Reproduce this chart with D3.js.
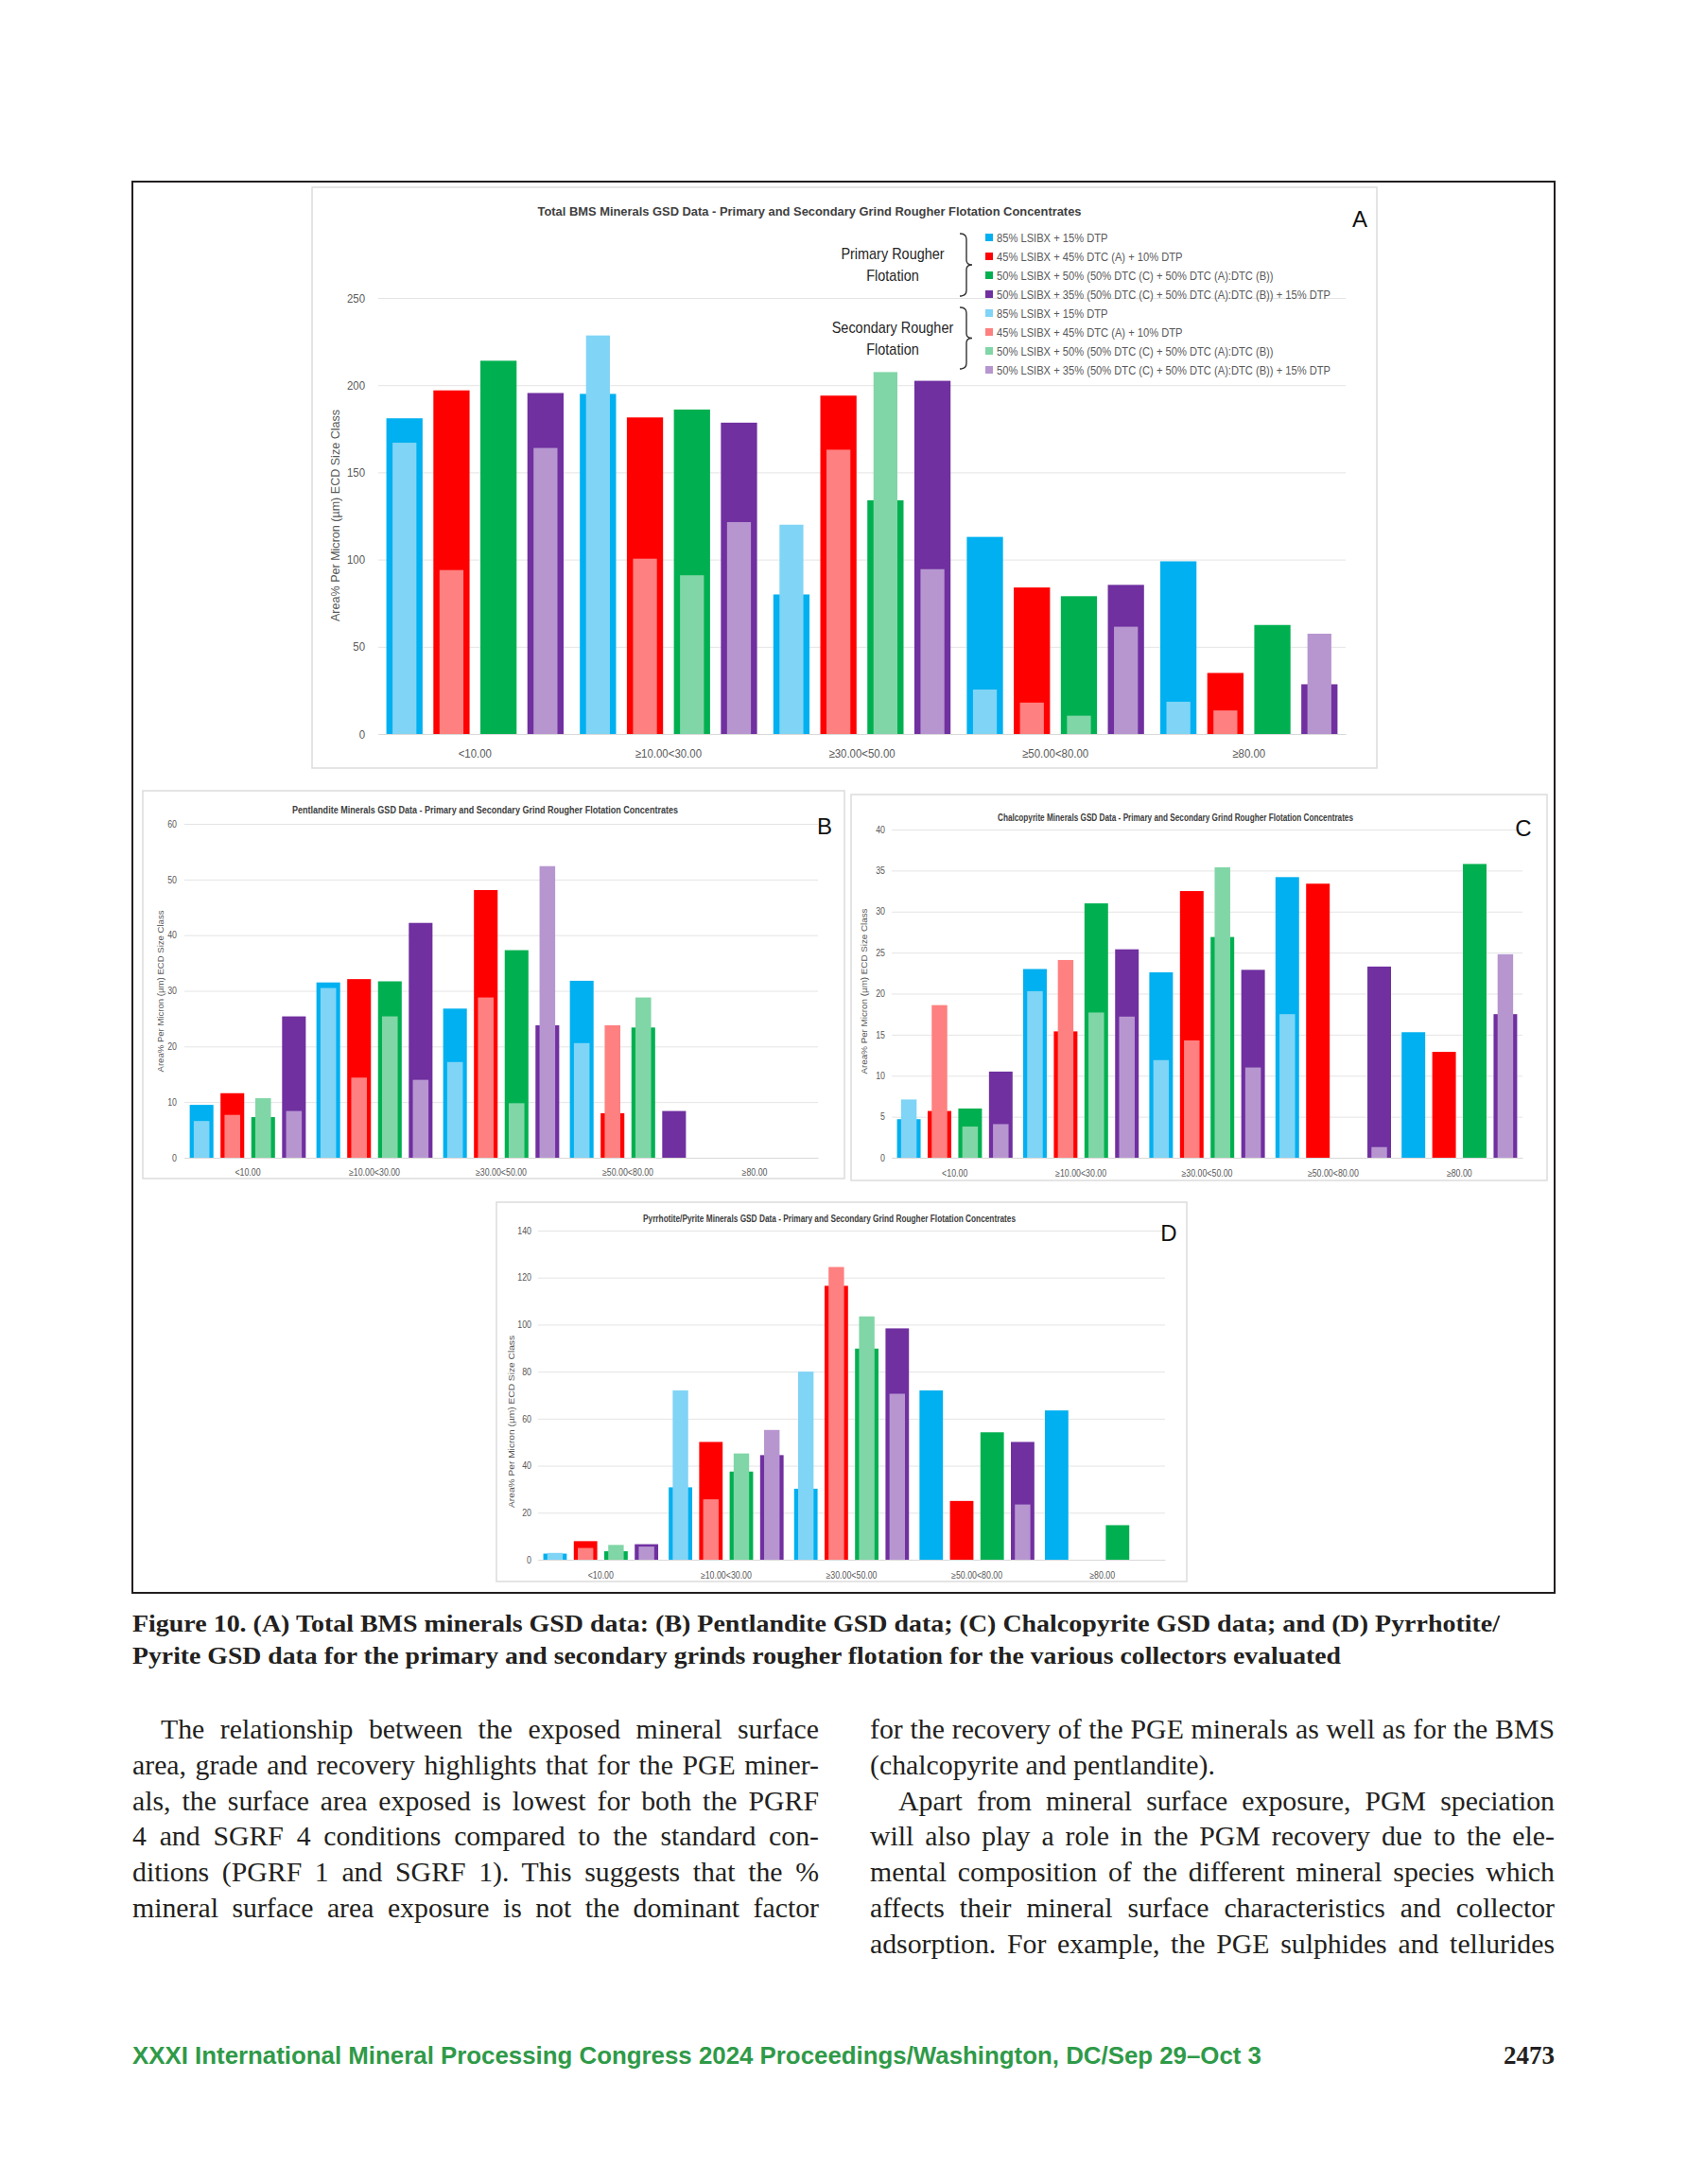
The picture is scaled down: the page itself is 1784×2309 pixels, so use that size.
<!DOCTYPE html>
<html>
<head>
<meta charset="utf-8">
<script src="https://cdn.jsdelivr.net/npm/d3@7"></script>
<style>
body { margin: 0; background: #fff; }
svg text { font-family: "Liberation Sans Narrow", "Liberation Sans", Arial, sans-serif; }
svg text.serif { font-family: "Liberation Serif", "DejaVu Serif", serif; }
svg text.plain { font-family: "Liberation Sans", Arial, sans-serif; }
</style>
</head>
<body>
<svg id="page" width="1784" height="2309"></svg>
<script>
// categories and series shared by the four charts
var categories = ["<10.00", "\u226510.00<30.00", "\u226530.00<50.00", "\u226550.00<80.00", "\u226580.00"];
var seriesNames = [
  "85% LSIBX + 15% DTP",
  "45% LSIBX + 45% DTC (A) + 10% DTP",
  "50% LSIBX + 50% (50% DTC (C) + 50% DTC (A):DTC (B))",
  "50% LSIBX + 35% (50% DTC (C) + 50% DTC (A):DTC (B)) + 15% DTP"
];
var primaryColors = ["#00b0f0", "#ff0000", "#00b050", "#7030a0"];
var secondaryColors = ["#80d4f6", "#ff8080", "#80d6a6", "#b796d0"];
var yTitle = "Area% Per Micron (\u00b5m) ECD Size Class";

// (A) total BMS, rows = series, columns = categories
var bmsPrimary = [
  [181, 195, 80, 113, 99],
  [197, 181.5, 194, 84, 35],
  [214, 186, 134, 79, 62.5],
  [195.5, 178.5, 202.5, 85.5, 28.5]
];
var bmsSecondary = [
  [167, 228.5, 120, 25.5, 18.5],
  [94, 100.5, 163, 18, 13.5],
  [0, 91, 207.5, 10.5, 0],
  [164, 121.5, 94.5, 61.5, 57.5]
];
var bmsTicks = [0, 50, 100, 150, 200, 250];

// (B) pentlandite
var pentPrimary = [
  [9.5, 31.5, 26.8, 31.8, 0],
  [11.6, 32.1, 48.1, 8, 0],
  [7.3, 31.7, 37.3, 23.4, 0],
  [25.4, 42.2, 23.8, 8.4, 0]
];
var pentSecondary = [
  [6.6, 30.5, 17.2, 20.6, 0],
  [7.7, 14.4, 28.8, 23.8, 0],
  [10.7, 25.4, 9.8, 28.8, 0],
  [8.4, 14, 52.4, 0, 0]
];
var pentTicks = [0, 10, 20, 30, 40, 50, 60];

// (C) chalcopyrite
var chalcPrimary = [
  [4.7, 23, 22.6, 34.2, 15.3],
  [5.7, 15.4, 32.5, 33.4, 12.9],
  [6, 31, 26.9, 0, 35.8],
  [10.5, 25.4, 22.9, 23.3, 17.5]
];
var chalcSecondary = [
  [7.1, 20.3, 11.9, 17.5, 0],
  [18.6, 24.1, 14.3, 0, 0],
  [3.8, 17.7, 35.4, 0, 0],
  [4.1, 17.2, 11, 1.3, 24.8]
];
var chalcTicks = [0, 5, 10, 15, 20, 25, 30, 35, 40];

// (D) pyrrhotite / pyrite
var pyrrPrimary = [
  [2.6, 30.8, 30.2, 72, 63.5],
  [7.9, 50.1, 116.5, 25, 0],
  [3.6, 37.5, 89.8, 54.2, 14.7],
  [6.6, 44.5, 98.4, 50.1, 0]
];
var pyrrSecondary = [
  [2.9, 72, 80, 0, 0],
  [5, 25.7, 124.5, 0, 0],
  [6.3, 45.2, 103.5, 0, 0],
  [5.6, 55.2, 70.6, 23.5, 0]
];
var pyrrTicks = [0, 20, 40, 60, 80, 100, 120, 140];

var captionLines = [
  "Figure 10. (A) Total BMS minerals GSD data: (B) Pentlandite GSD data; (C) Chalcopyrite GSD data; and (D) Pyrrhotite/",
  "Pyrite GSD data for the primary and secondary grinds rougher flotation for the various collectors evaluated"
];
var leftColumn = [
  "The relationship between the exposed mineral surface",
  "area, grade and recovery highlights that for the PGE miner-",
  "als, the surface area exposed is lowest for both the PGRF",
  "4 and SGRF 4 conditions compared to the standard con-",
  "ditions (PGRF 1 and SGRF 1). This suggests that the %",
  "mineral surface area exposure is not the dominant factor"
];
var rightColumn = [
  "for the recovery of the PGE minerals as well as for the BMS",
  "(chalcopyrite and pentlandite).",
  "Apart from mineral surface exposure, PGM speciation",
  "will also play a role in the PGM recovery due to the ele-",
  "mental composition of the different mineral species which",
  "affects their mineral surface characteristics and collector",
  "adsorption. For example, the PGE sulphides and tellurides"
];
var footerText = "XXXI International Mineral Processing Congress 2024 Proceedings/Washington, DC/Sep 29\u2013Oct 3";
var pageNumber = "2473";

var svg = d3.select("#page");

// squeeze text horizontally (the original charts use a condensed face)
function condense(sel, f) {
  sel.each(function() {
    var n = this.getComputedTextLength();
    d3.select(this).attr("textLength", n * f).attr("lengthAdjust", "spacingAndGlyphs");
  });
}

// figure frame
svg.append("rect")
  .attr("x", 140).attr("y", 192).attr("width", 1504).attr("height", 1492)
  .attr("fill", "#fff").attr("stroke", "#231f20").attr("stroke-width", 2);

function drawChart(cfg) {
  var g = svg.append("g");

  g.append("rect")
    .attr("x", cfg.panel[0]).attr("y", cfg.panel[1])
    .attr("width", cfg.panel[2]).attr("height", cfg.panel[3])
    .attr("fill", "#fff").attr("stroke", "#dcdcdc").attr("stroke-width", 1.5);

  var x0 = d3.scaleBand().domain(categories)
    .range([cfg.left, cfg.right]).paddingInner(0.084).paddingOuter(0.042);
  var x1 = d3.scaleBand().domain(d3.range(seriesNames.length))
    .range([0, x0.bandwidth()]).paddingInner(0.23);
  var y = d3.scaleLinear().domain([0, cfg.max]).range([cfg.zero, cfg.top]);

  // gridlines + y labels
  var ya = g.append("g")
    .attr("transform", "translate(" + cfg.left + ",0)")
    .call(d3.axisLeft(y).tickValues(cfg.ticks)
      .tickSize(-(cfg.right - cfg.left)).tickPadding(cfg.tickPad));
  ya.select(".domain").remove();
  ya.selectAll(".tick line").attr("stroke", "#e4e4e4");
  ya.selectAll(".tick text").attr("fill", "#595959").style("font-size", cfg.tickFont + "px");
  condense(ya.selectAll(".tick text"), 0.88);

  // x axis
  var xa = g.append("g")
    .attr("transform", "translate(0," + cfg.zero + ")")
    .call(d3.axisBottom(x0).tickSize(0).tickSizeOuter(0).tickPadding(cfg.catPad));
  xa.select(".domain").attr("stroke", "#d9d9d9");
  xa.selectAll(".tick text").attr("fill", "#595959").style("font-size", cfg.tickFont + "px");
  condense(xa.selectAll(".tick text"), 0.88);

  // primary bars then secondary bars on top
  function flatten(rows) {
    var out = [];
    rows.forEach(function(row, s) {
      row.forEach(function(v, c) { if (v > 0) out.push({s: s, c: categories[c], v: v}); });
    });
    return out;
  }
  var bw = x1.bandwidth(), sw = bw * 0.66;

  g.append("g").selectAll("rect")
    .data(flatten(cfg.primary))
    .enter().append("rect")
      .attr("x", function(d) { return x0(d.c) + x1(d.s); })
      .attr("y", function(d) { return y(d.v); })
      .attr("width", bw)
      .attr("height", function(d) { return cfg.zero - y(d.v); })
      .attr("fill", function(d) { return primaryColors[d.s]; });

  g.append("g").selectAll("rect")
    .data(flatten(cfg.secondary))
    .enter().append("rect")
      .attr("x", function(d) { return x0(d.c) + x1(d.s) + (bw - sw) / 2; })
      .attr("y", function(d) { return y(d.v); })
      .attr("width", sw)
      .attr("height", function(d) { return cfg.zero - y(d.v); })
      .attr("fill", function(d) { return secondaryColors[d.s]; });

  // title
  g.append("text")
    .attr("x", cfg.titlePos[0]).attr("y", cfg.titlePos[1])
    .attr("text-anchor", "middle")
    .attr("textLength", cfg.titleLen).attr("lengthAdjust", "spacingAndGlyphs")
    .style("font-size", cfg.titleFont + "px").style("font-weight", "bold")
    .attr("fill", "#404040")
    .text(cfg.title);

  // panel letter
  g.append("text").attr("class", "plain")
    .attr("x", cfg.letterPos[0]).attr("y", cfg.letterPos[1])
    .attr("text-anchor", "middle")
    .style("font-size", "24px").attr("fill", "#111")
    .text(cfg.letter);

  // y axis title
  g.append("text").attr("class", "plain")
    .attr("transform", "translate(" + cfg.yTitlePos[0] + "," + cfg.yTitlePos[1] + ") rotate(-90)")
    .attr("text-anchor", "middle")
    .attr("textLength", cfg.yTitleLen).attr("lengthAdjust", "spacingAndGlyphs")
    .style("font-size", cfg.yTitleFont + "px").attr("fill", "#595959")
    .text(yTitle);
}

drawChart({
  panel: [330, 198, 1126, 614], left: 400, right: 1423, zero: 776, top: 315,
  max: 250, ticks: bmsTicks, tickPad: 14, catPad: 16, tickFont: 13,
  primary: bmsPrimary, secondary: bmsSecondary,
  title: "Total BMS Minerals GSD Data - Primary and Secondary Grind Rougher Flotation Concentrates",
  titlePos: [856, 228], titleLen: 575, titleFont: 13.5,
  letter: "A", letterPos: [1438, 240],
  yTitlePos: [359, 545], yTitleLen: 224, yTitleFont: 12
});

drawChart({
  panel: [151, 836, 742, 410], left: 195, right: 865, zero: 1224, top: 871,
  max: 60, ticks: pentTicks, tickPad: 8, catPad: 12, tickFont: 10,
  primary: pentPrimary, secondary: pentSecondary,
  title: "Pentlandite Minerals GSD Data - Primary and Secondary Grind Rougher Flotation Concentrates",
  titlePos: [513, 860], titleLen: 408, titleFont: 10.5,
  letter: "B", letterPos: [872, 882],
  yTitlePos: [173, 1048], yTitleLen: 171, yTitleFont: 9.5
});

drawChart({
  panel: [900, 840, 736, 408], left: 943, right: 1610, zero: 1224, top: 877,
  max: 40, ticks: chalcTicks, tickPad: 7, catPad: 12.5, tickFont: 10,
  primary: chalcPrimary, secondary: chalcSecondary,
  title: "Chalcopyrite Minerals GSD Data - Primary and Secondary Grind Rougher Flotation Concentrates",
  titlePos: [1243, 868], titleLen: 376, titleFont: 10.5,
  letter: "C", letterPos: [1611, 884],
  yTitlePos: [917, 1048], yTitleLen: 175, yTitleFont: 9.5
});

drawChart({
  panel: [525, 1271, 730, 401], left: 569, right: 1232, zero: 1649, top: 1301,
  max: 140, ticks: pyrrTicks, tickPad: 7, catPad: 12.5, tickFont: 10,
  primary: pyrrPrimary, secondary: pyrrSecondary,
  title: "Pyrrhotite/Pyrite Minerals GSD Data - Primary and Secondary Grind Rougher Flotation Concentrates",
  titlePos: [877, 1292], titleLen: 394, titleFont: 10.5,
  letter: "D", letterPos: [1236, 1312],
  yTitlePos: [544, 1503], yTitleLen: 182, yTitleFont: 9.5
});

// legend of chart A: primary group then secondary group
var legendRows = seriesNames.map(function(n, i) { return {name: n, color: primaryColors[i]}; })
  .concat(seriesNames.map(function(n, i) { return {name: n, color: secondaryColors[i]}; }));
var ly = d3.scaleLinear().domain([0, 7]).range([251, 391]);
var legend = svg.append("g");
legend.selectAll("rect").data(legendRows).enter().append("rect")
  .attr("x", 1042).attr("y", function(d, i) { return ly(i) - 4; })
  .attr("width", 8).attr("height", 8)
  .attr("fill", function(d) { return d.color; });
var legendText = legend.selectAll("text").data(legendRows).enter().append("text")
  .attr("x", 1054).attr("y", function(d, i) { return ly(i) + 4.5; })
  .style("font-size", "13px").attr("fill", "#595959")
  .text(function(d) { return d.name; });
// longest entry is about 353px wide in the original
var longest = d3.max(legendText.nodes(), function(n) { return n.getComputedTextLength(); });
condense(legendText, 353 / longest);

function brace(top, bottom, bx) {
  var mid = (top + bottom) / 2;
  return "M" + (bx - 7) + "," + top + " Q" + bx + "," + top + " " + bx + "," + (top + 6) +
    " L" + bx + "," + (mid - 5) + " Q" + bx + "," + mid + " " + (bx + 6) + "," + mid +
    " Q" + bx + "," + mid + " " + bx + "," + (mid + 5) +
    " L" + bx + "," + (bottom - 6) + " Q" + bx + "," + bottom + " " + (bx - 7) + "," + bottom;
}
[[247, 313, "Primary Rougher"], [325, 390, "Secondary Rougher"]].forEach(function(b) {
  legend.append("path").attr("d", brace(b[0], b[1], 1022))
    .attr("fill", "none").attr("stroke", "#333").attr("stroke-width", 1.4);
  var mid = (b[0] + b[1]) / 2;
  var t1 = legend.append("text").attr("x", 944).attr("y", mid - 6)
    .attr("text-anchor", "middle").style("font-size", "17px").attr("fill", "#262626")
    .text(b[2]);
  var t2 = legend.append("text").attr("x", 944).attr("y", mid + 17)
    .attr("text-anchor", "middle").style("font-size", "17px").attr("fill", "#262626")
    .text("Flotation");
  condense(t1, 0.85);
  condense(t2, 0.85);
});

// caption
svg.selectAll(".cap").data(captionLines).enter().append("text")
  .attr("class", "serif")
  .attr("x", 140).attr("y", function(d, i) { return 1725 + i * 34; })
  .attr("textLength", function(d, i) { return i === 0 ? 1446 : 1278; })
  .attr("lengthAdjust", "spacingAndGlyphs")
  .style("font-size", "26px").style("font-weight", "bold").attr("fill", "#231f20")
  .text(function(d) { return d; });

// body text: pick a size so the tightest justified line just fits, then justify by word spacing
var columns = [
  {lines: leftColumn, x: 140, width: 726, indents: [0], last: []},
  {lines: rightColumn, x: 920, width: 724, indents: [2], last: [1]}
];
var probe = svg.append("text").attr("class", "serif").style("font-size", "30px");
var fit = Infinity;
columns.forEach(function(col) {
  col.lines.forEach(function(line, i) {
    if (col.last.indexOf(i) >= 0) return;
    var ind = col.indents.indexOf(i) >= 0 ? 30 : 0;
    probe.text(line);
    fit = Math.min(fit, (col.width - ind) / probe.node().getComputedTextLength());
  });
});
probe.remove();
var bodySize = 30 * fit * 0.995;

columns.forEach(function(col) {
  col.lines.forEach(function(line, i) {
    var ind = col.indents.indexOf(i) >= 0 ? 30 : 0;
    var t = svg.append("text").attr("class", "serif")
      .attr("x", col.x + ind).attr("y", 1838 + i * 37.8)
      .style("font-size", bodySize + "px").attr("fill", "#231f20")
      .text(line);
    if (col.last.indexOf(i) < 0) {
      var natural = t.node().getComputedTextLength();
      var spaces = line.split(" ").length - 1;
      t.attr("word-spacing", (col.width - ind - natural) / spaces);
    }
  });
});

// footer
svg.append("text").attr("class", "plain")
  .attr("x", 140).attr("y", 2182)
  .attr("textLength", 1194).attr("lengthAdjust", "spacingAndGlyphs")
  .style("font-size", "25px").style("font-weight", "bold").attr("fill", "#2f9a48")
  .text(footerText);
svg.append("text").attr("class", "serif")
  .attr("x", 1644).attr("y", 2182).attr("text-anchor", "end")
  .style("font-size", "27px").style("font-weight", "bold").attr("fill", "#231f20")
  .text(pageNumber);
</script>
</body>
</html>
